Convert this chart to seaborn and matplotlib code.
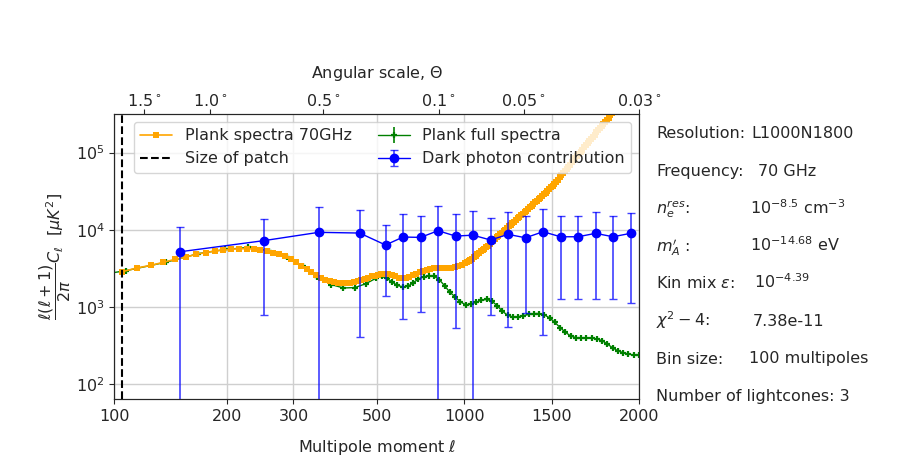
import numpy as np
import matplotlib
matplotlib.use("Agg")
import matplotlib.pyplot as plt
import seaborn as sns
from matplotlib.ticker import NullLocator, FixedLocator

# ---------------- data ----------------
# Planck 70 GHz spectrum, bins of 10 below 500 and above 1000, 20 in between
orange_l = [105, 115, 125, 135, 145, 155, 165, 175, 185, 195,
            205, 215, 225, 235, 245, 255, 265, 275, 285, 295,
            305, 315, 325, 335, 345, 355, 365, 375, 385, 395,
            405, 415, 425, 435, 445, 455, 465, 475, 485, 495,
            505, 525, 545, 565, 585, 605, 625, 645, 665, 685,
            705, 725, 745, 765, 785, 805, 825, 845, 865, 885,
            905, 925, 945, 965, 985,
            1005, 1015, 1025, 1035, 1045, 1055, 1065, 1075, 1085, 1095,
            1105, 1115, 1125, 1135, 1145, 1155, 1165, 1175, 1185, 1195,
            1205, 1215, 1225, 1235, 1245, 1255, 1265, 1275, 1285, 1295,
            1305, 1315, 1325, 1335, 1345, 1355, 1365, 1375, 1385, 1395,
            1405, 1415, 1425, 1435, 1445, 1455, 1465, 1475, 1485, 1495,
            1505, 1515, 1525, 1535, 1545, 1555, 1565, 1575, 1585, 1595,
            1605, 1615, 1625, 1635, 1645, 1655, 1665, 1675, 1685, 1695,
            1705, 1715, 1725, 1735, 1745, 1755, 1765, 1775, 1785, 1795,
            1805, 1815, 1825, 1835, 1845, 1855, 1865]
orange_cl = [2860, 3200, 3450, 3780, 4130, 4420, 4800, 5050, 5300, 5460,
             5600, 5670, 5680, 5630, 5480, 5350, 5050, 4850, 4550, 4200,
             3800, 3400, 3100, 2800, 2600, 2400, 2250, 2150, 2080, 2040,
             2020, 2020, 2050, 2100, 2170, 2240, 2320, 2400, 2480, 2550,
             2590, 2650, 2670, 2640, 2570, 2480, 2400, 2350, 2370, 2450,
             2560, 2700, 2830, 2950, 3050, 3110, 3150, 3180, 3200, 3210,
             3220, 3240, 3290, 3370, 3500,
             3680, 3790, 3920, 4060, 4220, 4390, 4580, 4780, 5000, 5230,
             5480, 5710, 5950, 6240, 6550, 6870, 7200, 7560, 7950, 8340,
             8750, 9160, 9600, 10060, 10550, 11060, 11600, 12160, 12750, 13360,
             14000, 14680, 15400, 16130, 16900, 17730, 18600, 19530, 20500, 21520,
             22600, 23720, 24900, 26120, 27400, 28810, 30300, 31910, 33600, 35450,
             37400, 39540, 41800, 44650, 47700, 50850, 54200, 57780, 61600, 65670,
             70000, 74600, 79500, 84700, 90300, 96250, 102600, 109400, 116600, 124300,
             132400, 141100, 150400, 160300, 170900, 182100, 194100, 206900, 220500, 235000,
             250500, 267000, 284600, 303300, 323300, 344600, 367000]

# Planck full binned spectrum (bins of 30)
green_l = [77.5, 107.5, 137.5, 167.5, 197.5, 227.5, 257.5, 287.5, 317.5, 347.5,
           377.5, 407.5, 437.5, 467.5, 497.5, 527.5, 557.5, 587.5, 617.5, 647.5,
           677.5, 707.5, 737.5, 767.5, 797.5, 827.5, 857.5, 887.5, 917.5, 947.5,
           977.5, 1007.5, 1037.5, 1067.5, 1097.5, 1127.5, 1157.5, 1187.5, 1217.5, 1247.5,
           1277.5, 1307.5, 1337.5, 1367.5, 1397.5, 1427.5, 1457.5, 1487.5, 1517.5, 1547.5,
           1577.5, 1607.5, 1637.5, 1667.5, 1697.5, 1727.5, 1757.5, 1787.5, 1817.5, 1847.5,
           1877.5, 1907.5, 1937.5, 1967.5, 1997.5]
green_cl = [2300, 2950, 3800, 4900, 5550, 5900, 5350, 4400, 3350, 2450,
            1950, 1760, 1780, 2000, 2350, 2480, 2350, 2100, 1900, 1820,
            1850, 2050, 2300, 2450, 2520, 2500, 2250, 1880, 1550, 1350,
            1160, 1070, 1080, 1150, 1220, 1250, 1190, 1040, 880, 780,
            740, 745, 770, 800, 820, 820, 790, 720, 630, 540,
            470, 420, 400, 395, 395, 395, 385, 365, 330, 295,
            270, 255, 245, 238, 235]
green_err = [90, 110, 140, 170, 190, 200, 180, 150, 120, 90,
             70, 65, 65, 70, 85, 90, 85, 75, 70, 65,
             65, 75, 80, 90, 90, 90, 80, 70, 55, 50,
             42, 40, 40, 42, 45, 45, 43, 38, 32, 28,
             27, 27, 28, 29, 30, 30, 29, 26, 23, 20,
             17, 15, 15, 14, 14, 14, 14, 13, 12, 11,
             10, 9, 9, 9, 9]

# Dark photon contribution (bins of 100)
blue_l = [150, 250, 350, 450, 550, 650, 750, 850, 950, 1050,
          1150, 1250, 1350, 1450, 1550, 1650, 1750, 1850, 1950]
blue_cl = [5190, 7220, 9250, 9060, 6340, 8040, 7960, 9710, 8280, 8500,
           7360, 8710, 7870, 9420, 8110, 8110, 8980, 8110, 8980]
blue_upper = [10750, 13640, 19500, 17800, 11400, 15800, 15200, 20300, 16100, 17500,
              14100, 16800, 15000, 18500, 15200, 15200, 16800, 15200, 16500]
blue_lower = [-4000, 785, -6000, 404, 1384, 690, 859, -6000, 528, -6000,
              785, 555, 841, 437, 1277, 1253, 1285, 1265, 1133]

patch_l = 105

bottom_ticks = [100, 200, 300, 500, 1000, 1500, 2000]
top_ticks_l = [120, 180, 360, 855, 1340, 2000]
top_labels = [r"$1.5^\circ$", r"$1.0^\circ$", r"$0.5^\circ$",
              r"$0.1^\circ$", r"$0.05^\circ$", r"$0.03^\circ$"]

info_labels = ["Resolution:", "Frequency:", r"$n_e^{res}$:", r"$m_A'$ :",
               r"Kin mix $\varepsilon$:", r"$\chi^2 - 4$:", "Bin size:",
               "Number of lightcones: 3"]
info_values = ["L1000N1800", "70 GHz", r"$10^{-8.5}$ cm$^{-3}$", r"$10^{-14.68}$ eV",
               r"$10^{-4.39}$", "7.38e-11", "100 multipoles", ""]
value_x_px = [751, 758, 750, 750, 754, 753, 749, 750]

# ---------------- style ----------------
sns.set_style("ticks")
plt.rcParams.update({
    "font.size": 11.5,
    "axes.labelsize": 11.5,
    "xtick.labelsize": 11.5,
    "ytick.labelsize": 11.5,
    "legend.fontsize": 11.5,
    "mathtext.fontset": "dejavusans",
})
plt.rcParams["font.family"] = ["DejaVu Sans"]


# hybrid multipole axis: log up to 500, linear above
def fwd(x):
    x = np.asarray(x, dtype=float)
    xl = np.clip(x, 1e-3, None)
    return np.where(x < 500, np.log10(xl / 100) / np.log10(5), 1 + (x - 500) / 1500)


def inv(y):
    y = np.asarray(y, dtype=float)
    return np.where(y < 1, 100 * 5 ** np.clip(y, -20, 1), 500 + (y - 1) * 1500)


W, H = 913, 457
fig = plt.figure(figsize=(W / 100, H / 100), dpi=100)
ax = fig.add_axes([114.3 / W, 1 - 399.3 / H, (639.3 - 114.3) / W, (399.3 - 114) / H])
ax.set_xscale("function", functions=(fwd, inv))
ax.set_yscale("log")

# green: Planck full spectrum
green = ax.errorbar(green_l, green_cl, yerr=green_err, fmt="-", marker="+",
                    color="green", ms=5, mew=1.6, lw=1, elinewidth=1.2, zorder=3,
                    label="Plank full spectra")

# orange: Planck 70 GHz
sns.lineplot(x=orange_l, y=orange_cl, ax=ax, color="orange", marker="s",
             markersize=4, markeredgewidth=0, markeredgecolor="orange",
             lw=1.2, zorder=4, label="Plank spectra 70GHz", legend=False)
orange = ax.lines[-1]

patch = ax.axvline(patch_l, color="black", ls="--", lw=1.5, zorder=5, label="Size of patch")

bl = np.array(blue_cl)
yerr = [bl - np.array(blue_lower), np.array(blue_upper) - bl]
blue = ax.errorbar(blue_l, blue_cl, yerr=yerr, fmt="o-", color="blue", ms=6,
                   lw=1, ecolor=(0, 0, 1, 0.75), elinewidth=1.2, capsize=3,
                   zorder=6, label="Dark photon contribution")

ax.set_xlim(100, 2000)
ax.set_ylim(63.5, 3.16e5)
ax.xaxis.set_major_locator(FixedLocator(bottom_ticks))
ax.set_xticklabels([str(t) for t in bottom_ticks])
ax.xaxis.set_minor_locator(NullLocator())
ax.yaxis.set_minor_locator(NullLocator())
ax.grid(True, color="#cfcfcf", lw=1)
ax.set_axisbelow(True)
ax.set_xlabel(r"Multipole moment $\ell$", labelpad=10)
ax.set_ylabel(r"$\dfrac{\ell(\ell+1)}{2\pi}C_\ell\ \ [\mu K^2]$", labelpad=2)

leg = ax.legend(handles=[orange, patch, green, blue], loc="upper right", ncol=2,
                framealpha=0.8, columnspacing=1.6)
leg.set_zorder(10)

# top axis: angular scale
top = ax.twiny()
top.set_xscale("function", functions=(fwd, inv))
top.set_xlim(100, 2000)
top.xaxis.set_major_locator(FixedLocator(top_ticks_l))
top.set_xticklabels(top_labels)
top.xaxis.set_minor_locator(NullLocator())
top.tick_params(axis="x", pad=0)
top.set_xlabel(r"Angular scale, $\Theta$", labelpad=11)
top.grid(False)

# parameter block on the right
for i, (lab, val) in enumerate(zip(info_labels, info_values)):
    ybase = 1 - (138.5 + 37.5 * i) / H
    fig.text(656 / W, ybase, lab, va="baseline", ha="left")
    if val:
        fig.text(value_x_px[i] / W, ybase, val, va="baseline", ha="left")

fig.savefig("out.png", dpi=100)
